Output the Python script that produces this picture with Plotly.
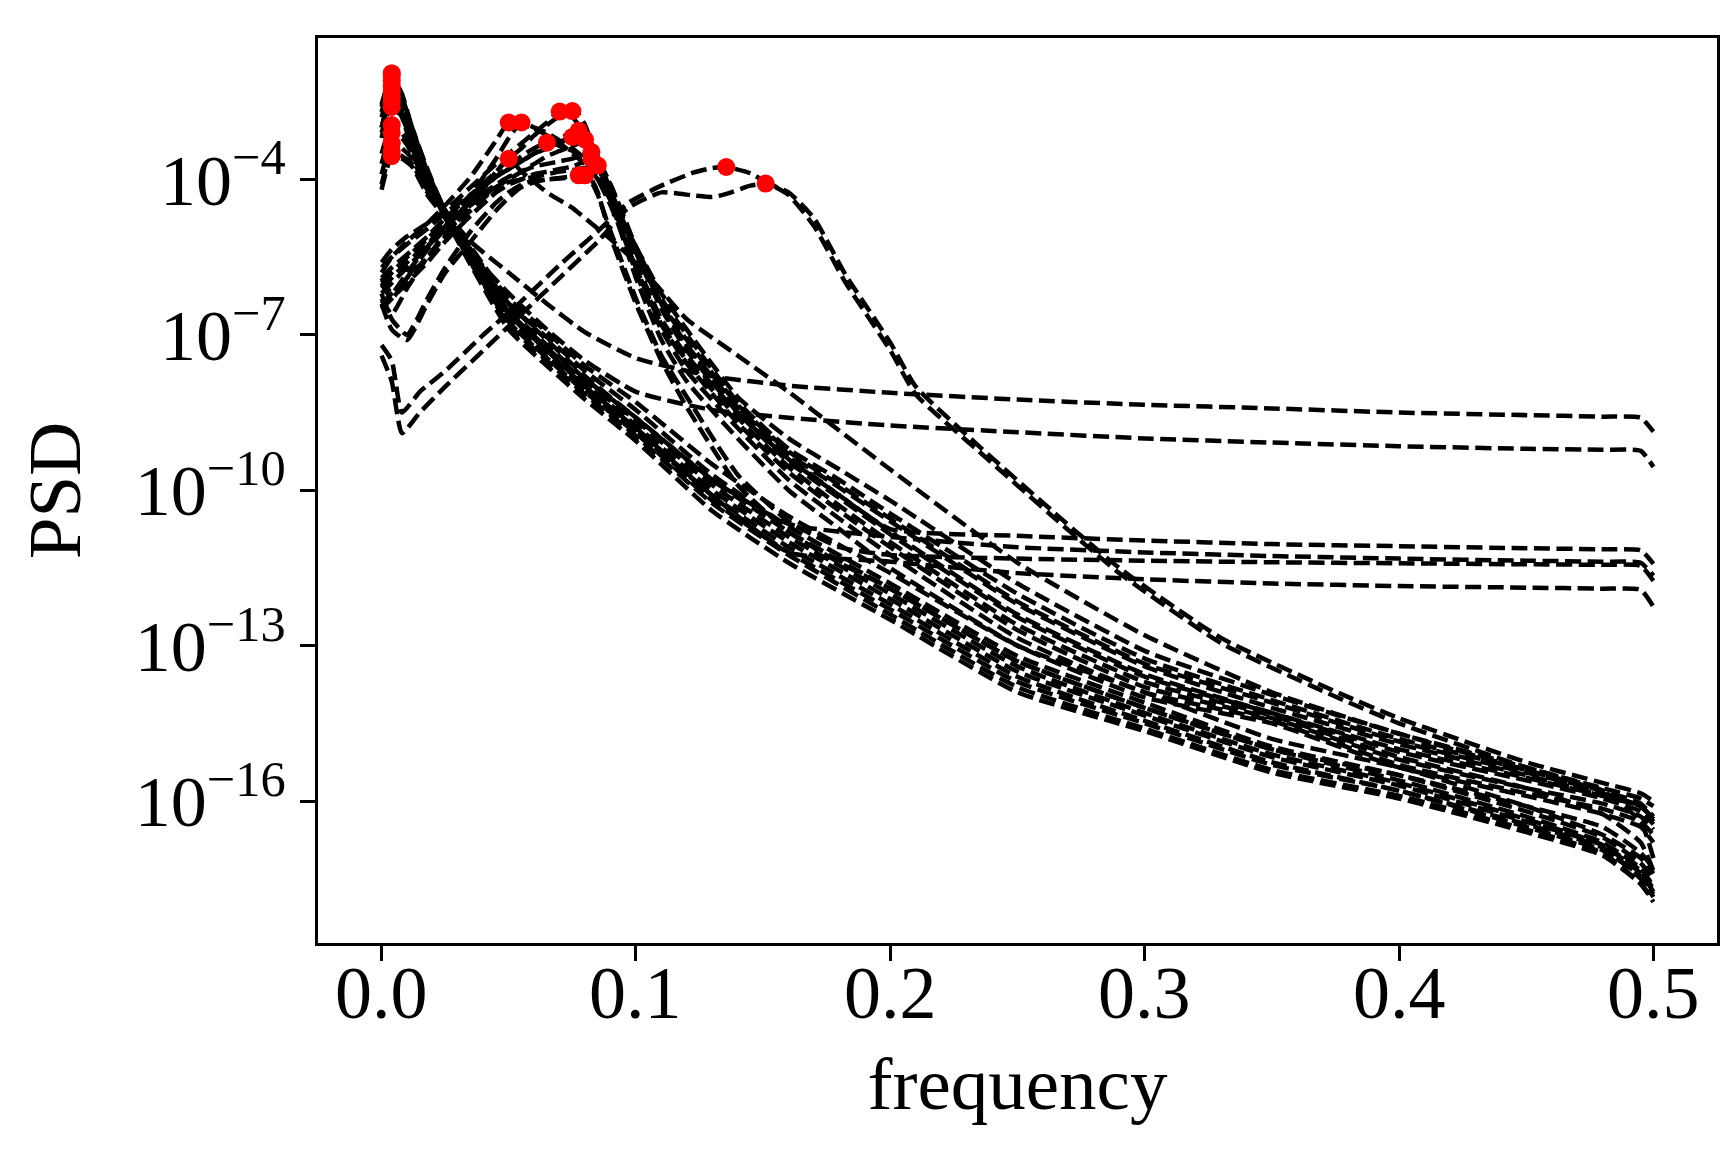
import numpy as np
import plotly.graph_objects as go

# ---------------- data (log10 of PSD) ----------------
# Group A: curves peaking at very low frequency
freq_a = [0, 0.004, 0.008, 0.012, 0.018, 0.025, 0.035, 0.05, 0.065, 0.08, 0.1, 0.13,
          0.16, 0.2, 0.25, 0.3, 0.35, 0.4, 0.45, 0.48, 0.495, 0.5]
a01 = [-2.6, -1.95, -2.4, -3.0, -3.8, -4.6, -5.2, -5.8, -6.4, -6.95, -7.45, -7.8, -7.98, -8.12, -8.25, -8.35, -8.42, -8.5, -8.55, -8.58, -8.6, -8.87]
a02 = [-2.7, -2.1, -2.5, -3.1, -3.9, -4.65, -5.4, -6.2, -6.9, -7.5, -8.1, -8.45, -8.6, -8.75, -8.88, -9.0, -9.08, -9.15, -9.2, -9.22, -9.24, -9.55]
a03 = [-3.0, -2.3, -2.7, -3.3, -4.0, -4.65, -5.4, -6.4, -7.1, -7.8, -8.6, -9.8, -10.65, -10.9, -11.1, -11.2, -11.27, -11.32, -11.36, -11.38, -11.4, -11.65]
a04 = [-3.2, -2.5, -2.8, -3.4, -4.05, -4.6, -5.5, -6.6, -7.3, -8.0, -8.8, -10.1, -11.2, -11.38, -11.6, -11.72, -11.8, -11.85, -11.88, -11.9, -11.92, -12.25]
a05 = [-2.55, -2.0, -2.35, -3.0, -3.85, -4.6, -5.45, -6.5, -7.2, -7.85, -8.6, -9.8, -10.8, -11.9, -13.3, -14.2, -15.0, -15.6, -16.3, -16.8, -17.3, -17.65]
a06 = [-2.8, -2.2, -2.55, -3.15, -3.95, -4.7, -5.6, -6.75, -7.45, -8.1, -8.9, -10.2, -11.2, -12.3, -13.7, -14.5, -15.3, -15.8, -16.5, -16.95, -17.45, -17.8]
a07 = [-3.0, -2.4, -2.7, -3.25, -4.0, -4.6, -5.35, -6.4, -7.05, -7.7, -8.45, -9.7, -10.7, -11.8, -13.2, -14.1, -14.95, -15.5, -16.2, -16.7, -17.2, -17.5]
a08 = [-3.1, -2.6, -2.8, -3.3, -4.05, -4.65, -5.5, -6.6, -7.3, -7.95, -8.75, -10.0, -11.0, -12.1, -13.5, -14.35, -15.15, -15.7, -16.4, -16.85, -17.35, -17.7]
a09 = [-3.5, -2.95, -3.1, -3.45, -4.1, -4.6, -5.3, -6.3, -6.95, -7.6, -8.3, -9.5, -10.5, -11.6, -13.0, -13.9, -14.8, -15.35, -16.1, -16.65, -17.1, -17.4]
a10 = [-3.7, -3.1, -3.2, -3.5, -4.15, -4.7, -5.55, -6.7, -7.4, -8.05, -8.85, -10.1, -11.1, -12.2, -13.6, -14.45, -15.25, -15.8, -16.45, -16.9, -17.5, -17.85]
a11 = [-3.9, -3.3, -3.4, -3.6, -4.2, -4.65, -5.45, -6.55, -7.25, -7.9, -8.65, -9.9, -10.9, -12.0, -13.4, -14.3, -15.1, -15.65, -16.35, -16.85, -17.4, -17.75]
a12 = [-4.1, -3.45, -3.55, -3.7, -4.25, -4.7, -5.6, -6.8, -7.5, -8.15, -8.95, -10.25, -11.25, -12.4, -13.8, -14.6, -15.4, -15.9, -16.55, -17.0, -17.6, -17.95]
a13 = [-4.2, -3.55, -3.6, -3.75, -4.3, -4.75, -5.65, -6.9, -7.6, -8.25, -9.05, -10.4, -11.4, -12.5, -13.9, -14.65, -15.45, -15.95, -16.6, -17.05, -17.6, -17.9]

# Group B: curves peaking around 0.05-0.085
freq_b = [0, 0.004, 0.01, 0.018, 0.025, 0.035, 0.045, 0.05, 0.055, 0.06, 0.065, 0.07, 0.075,
          0.0775, 0.08, 0.0825, 0.085, 0.09, 0.1, 0.11, 0.12, 0.14, 0.16, 0.18, 0.2, 0.25,
          0.3, 0.35, 0.4, 0.45, 0.48, 0.495, 0.5]
b01 = [-5.8, -5.5, -5.2, -4.85, -4.5, -3.95, -3.25, -2.90, -2.95, -3.02, -3.15, -3.3, -3.5, -3.6, -3.7, -3.85, -4.0, -4.4, -5.3, -6.2, -6.9, -8.2, -9.0, -9.6, -10.2, -11.8, -13.1, -13.95, -14.7, -15.35, -15.8, -16.4, -17.1]
b02 = [-6.0, -6.3, -5.9, -5.35, -4.95, -4.3, -3.6, -3.2, -2.90, -3.0, -3.1, -3.25, -3.4, -3.5, -3.6, -3.75, -3.95, -4.35, -5.3, -6.3, -7.0, -8.3, -9.2, -9.8, -10.45, -12.0, -13.25, -14.05, -14.8, -15.4, -15.85, -16.1, -16.35]
b03 = [-5.6, -5.35, -5.1, -4.85, -4.6, -4.15, -3.7, -3.5, -3.3, -3.1, -2.9, -2.69, -2.8, -2.95, -3.15, -3.45, -3.8, -4.4, -5.6, -6.7, -7.4, -8.5, -9.4, -10.1, -10.8, -12.4, -13.55, -14.3, -15.05, -15.6, -15.95, -16.2, -16.45]
b04 = [-5.9, -5.7, -5.45, -5.1, -4.75, -4.3, -3.85, -3.6, -3.4, -3.15, -2.95, -2.78, -2.68, -2.75, -2.95, -3.3, -3.7, -4.3, -5.4, -6.45, -7.2, -8.4, -9.3, -9.95, -10.6, -12.2, -13.4, -14.2, -14.9, -15.5, -15.9, -16.1, -16.35]
b05 = [-6.2, -6.0, -5.7, -5.3, -4.95, -4.4, -3.95, -3.75, -3.55, -3.4, -3.29, -3.35, -3.45, -3.55, -3.65, -3.8, -4.0, -4.5, -5.7, -6.8, -7.5, -8.6, -9.55, -10.3, -11.0, -12.6, -13.7, -14.35, -15.15, -15.75, -16.25, -16.8, -17.35]
b06 = [-6.4, -6.2, -5.9, -5.5, -5.1, -4.5, -3.85, -3.60, -3.85, -4.05, -4.25, -4.4, -4.55, -4.65, -4.75, -4.85, -4.95, -5.15, -5.6, -6.15, -6.7, -7.4, -8.1, -8.85, -9.6, -11.4, -12.8, -13.9, -14.7, -15.4, -15.8, -16.1, -16.4]
b07 = [-6.0, -5.8, -5.5, -5.15, -4.8, -4.35, -3.95, -3.8, -3.65, -3.5, -3.4, -3.28, -3.18, -3.22, -3.3, -3.45, -3.65, -4.3, -5.7, -6.8, -7.55, -8.7, -9.65, -10.4, -11.1, -12.7, -13.8, -14.4, -15.2, -15.75, -16.05, -16.3, -16.55]
b08 = [-5.7, -5.5, -5.25, -4.95, -4.65, -4.3, -3.95, -3.8, -3.65, -3.5, -3.35, -3.2, -3.1, -3.06, -3.15, -3.35, -3.6, -4.2, -5.4, -6.4, -7.1, -8.35, -9.25, -9.9, -10.55, -12.15, -13.35, -14.1, -14.85, -15.45, -15.8, -16.05, -16.3]
b09 = [-6.3, -6.6, -6.1, -5.5, -5.05, -4.6, -4.15, -4.0, -3.85, -3.7, -3.55, -3.45, -3.35, -3.3, -3.23, -3.35, -3.55, -4.3, -5.8, -6.9, -7.7, -8.8, -9.8, -10.55, -11.25, -12.85, -13.9, -14.45, -15.3, -15.85, -16.15, -16.4, -16.65]
b10 = [-6.1, -5.9, -5.6, -5.25, -4.9, -4.45, -4.1, -3.95, -3.85, -3.75, -3.7, -3.65, -3.6, -3.55, -3.5, -3.47, -3.6, -4.1, -5.4, -6.5, -7.3, -8.5, -9.45, -10.15, -10.85, -12.45, -13.6, -14.3, -15.0, -15.55, -15.9, -16.1, -16.35]
b11 = [-6.5, -6.3, -6.0, -5.6, -5.2, -4.7, -4.25, -4.1, -4.0, -3.9, -3.85, -3.8, -3.75, -3.7, -3.65, -3.60, -3.75, -4.4, -5.9, -7.1, -7.9, -9.0, -10.0, -10.75, -11.5, -13.0, -14.0, -14.5, -15.35, -15.9, -16.25, -16.5, -16.8]
b12 = [-5.9, -6.2, -5.8, -5.3, -4.9, -4.5, -4.15, -4.05, -4.0, -3.95, -3.9, -3.85, -3.82, -3.8, -3.78, -3.76, -3.73, -4.1, -5.3, -6.4, -7.2, -8.4, -9.35, -10.1, -10.75, -10.88, -10.97, -11.04, -11.08, -11.12, -11.14, -11.16, -11.42]
b13 = [-6.4, -6.9, -7.1, -6.4, -5.8, -5.2, -4.6, -4.35, -4.15, -4.05, -4.0, -3.97, -3.94, -3.92, -3.95, -4.05, -4.3, -5.0, -6.3, -7.4, -8.2, -9.7, -10.6, -11.1, -11.25, -11.32, -11.36, -11.39, -11.41, -11.43, -11.44, -11.46, -11.75]
b14 = [-6.2, -6.7, -7.0, -6.3, -5.7, -5.0, -4.45, -4.25, -4.1, -4.02, -4.0, -3.98, -3.96, -3.94, -3.92, -4.0, -4.25, -5.1, -6.4, -7.5, -8.4, -9.9, -10.8, -11.4, -11.9, -13.3, -14.2, -15.0, -15.5, -16.1, -16.5, -17.0, -17.3]

# Group C: curves peaking around 0.135-0.15
freq_c = [0, 0.004, 0.008, 0.015, 0.025, 0.04, 0.055, 0.07, 0.085, 0.097, 0.11, 0.1225, 0.13,
          0.1355, 0.145, 0.151, 0.16, 0.17, 0.1825, 0.2, 0.21, 0.236, 0.266, 0.29, 0.33,
          0.378, 0.4, 0.45, 0.48, 0.495, 0.5]
c01 = [-7.2, -7.5, -8.5, -8.1, -7.7, -7.0, -6.35, -5.65, -5.0, -4.45, -4.12, -3.87, -3.78, -3.76, -3.88, -4.05, -4.3, -4.9, -6.0, -7.3, -8.15, -9.3, -10.6, -11.6, -12.95, -14.05, -14.5, -15.35, -15.75, -15.95, -16.1]
c02 = [-7.4, -7.9, -8.9, -8.5, -8.0, -7.3, -6.6, -5.9, -5.2, -4.55, -4.25, -4.31, -4.34, -4.28, -4.12, -4.08, -4.25, -4.75, -5.85, -7.15, -8.0, -9.2, -10.5, -11.5, -12.85, -13.95, -14.4, -15.25, -15.65, -15.85, -16.0]

x_tick_vals = [0.0, 0.1, 0.2, 0.3, 0.4, 0.5]
x_tick_text = ["0.0", "0.1", "0.2", "0.3", "0.4", "0.5"]
y_tick_exponents = [-16, -13, -10, -7, -4]

groups = [
    (freq_a, [a01, a02, a03, a04, a05, a06, a07, a08, a09, a10, a11, a12, a13]),
    (freq_b, [b01, b02, b03, b04, b05, b06, b07, b08, b09, b10, b11, b12, b13, b14]),
    (freq_c, [c01, c02]),
]

# ---------------- figure ----------------
fig = go.Figure()
peak_f, peak_p = [], []
for freqs, curves in groups:
    for logv in curves:
        psd = [10.0 ** v for v in logv]
        fig.add_trace(go.Scatter(
            x=freqs, y=psd, mode="lines",
            line=dict(color="black", width=4.5, dash="16px,6.5px", shape="spline", smoothing=0.5),
            hoverinfo="skip", showlegend=False))
        k = int(np.argmax(logv))
        peak_f.append(freqs[k])
        peak_p.append(psd[k])

fig.add_trace(go.Scatter(
    x=peak_f, y=peak_p, mode="markers",
    marker=dict(color="red", size=18, line=dict(width=0)),
    hoverinfo="skip", showlegend=False))

font_family = "Liberation Serif, Times New Roman, serif"
fig.update_layout(
    width=1734, height=1149,
    margin=dict(l=310, r=25, t=30, b=214, autoexpand=False),
    plot_bgcolor="white", paper_bgcolor="white",
    font=dict(family=font_family, color="black", size=72),
    showlegend=False,
)
# x tick labels placed as annotations at the tick values (closer to the axis than plotly's default)
for v, t in zip(x_tick_vals, x_tick_text):
    fig.add_annotation(x=v, xref="x", y=0, yref="paper", yanchor="top", xanchor="center",
                       yshift=-7, text=t, showarrow=False,
                       font=dict(size=74, family=font_family, color="black"))
fig.update_xaxes(
    range=[-0.025, 0.525], automargin=False,
    tickvals=x_tick_vals, showticklabels=False,
    ticks="outside", ticklen=15, tickwidth=3, tickcolor="black",
    showline=True, linewidth=3, linecolor="black", mirror=True,
    showgrid=False, zeroline=False,
    title=dict(text="frequency", font=dict(size=75, family=font_family), standoff=97),
)
fig.update_yaxes(
    type="log", range=[-18.74, -1.27], automargin=False,
    tickvals=[10.0 ** e for e in y_tick_exponents],
    ticktext=["10<sup>\u2212%d</sup>" % (-e) for e in y_tick_exponents],
    ticks="outside", ticklen=15, tickwidth=3, tickcolor="black",
    showline=True, linewidth=3, linecolor="black", mirror=True,
    showgrid=False, zeroline=False,
    tickfont=dict(size=72, family=font_family),
    title=dict(text="PSD", font=dict(size=75, family=font_family), standoff=30),
)

fig.write_html("out.html")
